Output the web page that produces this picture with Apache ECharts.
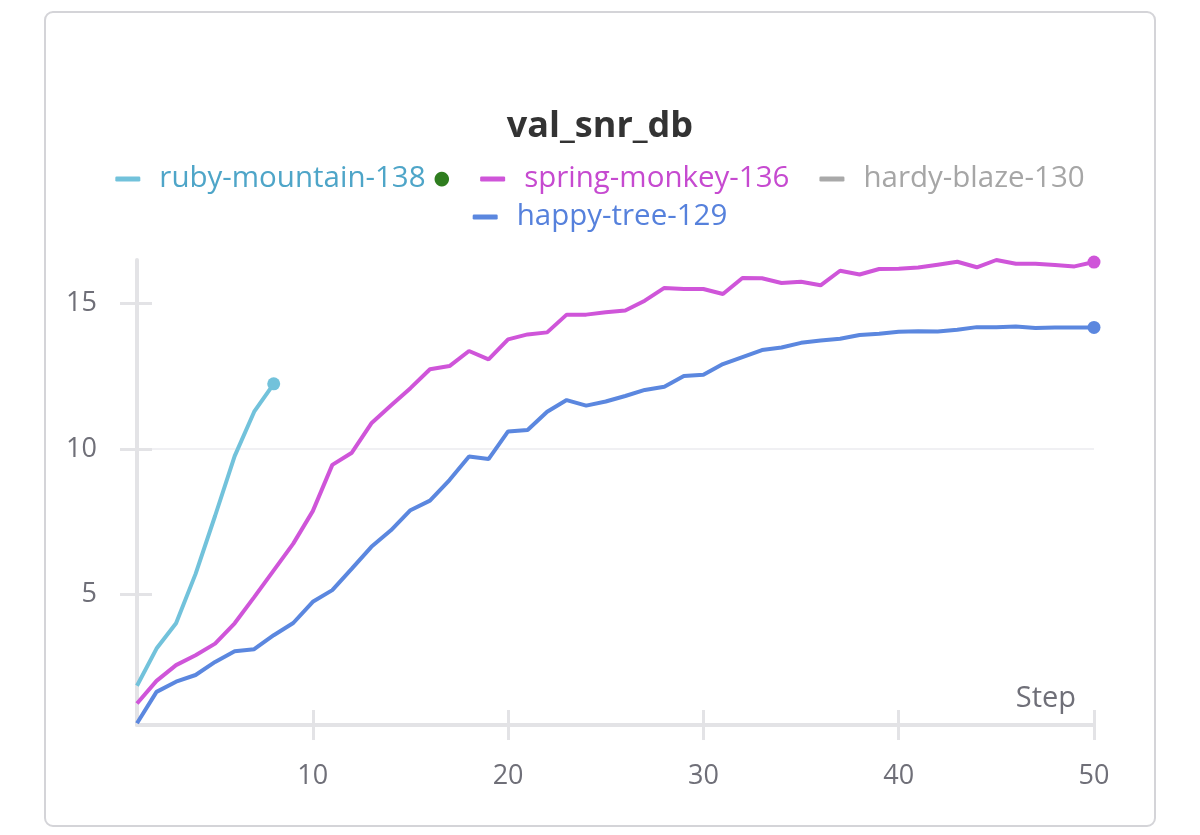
<!DOCTYPE html>
<html>
<head>
<meta charset="utf-8">
<script src="https://cdn.jsdelivr.net/npm/echarts@6/dist/echarts.min.js"></script>
<style>
  html, body { margin: 0; padding: 0; background: #fff; }
  #main { width: 1200px; height: 835px; }
</style>
</head>
<body>
<div id="main"></div>
<script>
// run names, in legend order
const runNames = ["ruby-mountain-138", "spring-monkey-136", "hardy-blaze-130", "happy-tree-129"];
const lineColors = ["#72c2db", "#cf55d9", "#a9a9a9", "#5b87df"];
const textColors = ["#4ea5c8", "#c64ad0", "#a6a6a6", "#5681dc"];

// val_snr_db per step (steps start at 1)
const rubyMountain = [1.85, 3.13, 4.0, 5.7, 7.7, 9.75, 11.28, 12.24];
const springMonkey = [
  1.24, 2.02, 2.56, 2.9, 3.3, 4.0, 4.9, 5.82, 6.74, 7.86,
  9.45, 9.87, 10.88, 11.49, 12.09, 12.74, 12.85, 13.37, 13.08, 13.77,
  13.94, 14.01, 14.62, 14.62, 14.7, 14.76, 15.1, 15.54, 15.5, 15.5,
  15.33, 15.88, 15.87, 15.71, 15.75, 15.63, 16.13, 16.0, 16.19, 16.2,
  16.24, 16.34, 16.44, 16.25, 16.5, 16.37, 16.37, 16.33, 16.28, 16.43
];
const hardyBlaze = [];
const happyTree = [
  0.56, 1.64, 1.99, 2.22, 2.67, 3.04, 3.11, 3.59, 4.01, 4.74,
  5.14, 5.88, 6.63, 7.2, 7.89, 8.22, 8.93, 9.74, 9.65, 10.6,
  10.65, 11.28, 11.68, 11.49, 11.63, 11.82, 12.03, 12.14, 12.51, 12.55,
  12.92, 13.16, 13.4, 13.49, 13.65, 13.73, 13.79, 13.92, 13.96, 14.03,
  14.05, 14.04, 14.1, 14.19, 14.19, 14.21, 14.16, 14.18, 14.18, 14.18
];

const xTicks = [10, 20, 30, 40, 50];
const yTicks = [5, 10, 15];

const runValues = [rubyMountain, springMonkey, hardyBlaze, happyTree];

const font = "Open Sans";
const axisGray = "#e3e3e6";
const labelGray = "#6f6f78";

function toPairs(values) {
  return values.map((v, i) => [i + 1, v]);
}

const rich = { dot: { color: "#2f7d1f", fontSize: 19, fontFamily: "DejaVu Sans", padding: [0, 0, 0, 8] } };
runNames.forEach((name, i) => {
  rich["r" + i] = { color: textColors[i], fontSize: 29.5, fontFamily: font, padding: [0, 0, 0, 14] };
});

function legendFormatter(name) {
  const i = runNames.indexOf(name);
  return "{r" + i + "|" + name + "}" + (i === 0 ? "{dot|●}" : "");
}

const legendBase = {
  left: "center",
  icon: "roundRect",
  itemWidth: 25,
  itemHeight: 5,
  itemGap: 30,
  selectedMode: false,
  formatter: legendFormatter,
  textStyle: { fontFamily: font, fontSize: 29.5, rich: rich },
};

var chartDom = document.getElementById("main");
var myChart = echarts.init(chartDom);
var option;

option = {
  animation: false,
  backgroundColor: "#fff",
  graphic: [
    {
      type: "rect",
      shape: { x: 45, y: 12, width: 1110, height: 814, r: 8 },
      style: { fill: "none", stroke: "#d4d4d8", lineWidth: 2 },
      silent: true,
    },
  ],
  title: {
    text: "val_snr_db",
    left: "center",
    top: 104,
    textStyle: { fontFamily: font, fontSize: 36, fontWeight: "bold", color: "#333" },
  },
  legend: [
    Object.assign({}, legendBase, { top: 159, data: runNames.slice(0, 3) }),
    Object.assign({}, legendBase, { top: 197, data: runNames.slice(3) }),
  ],
  grid: { left: 137, right: 106, top: 260, bottom: 110 },
  xAxis: [
    {
      type: "value",
      min: 1,
      max: 50,
      name: "Step",
      nameLocation: "end",
      nameGap: -18,
      nameTextStyle: {
        fontFamily: font, fontSize: 29, color: labelGray,
        align: "right", verticalAlign: "bottom", padding: [0, 0, 12, 0],
      },
      axisLine: { show: true, lineStyle: { color: axisGray, width: 4 } },
      axisTick: { show: true, customValues: xTicks, length: 15, lineStyle: { color: axisGray, width: 3 } },
      axisLabel: { customValues: xTicks, margin: 38, fontFamily: font, fontSize: 27, color: labelGray },
      splitLine: { show: false },
    },
    {
      type: "value",
      min: 1,
      max: 50,
      axisLine: { show: false },
      axisTick: { show: true, inside: true, customValues: xTicks, length: 15, lineStyle: { color: axisGray, width: 3 } },
      axisLabel: { show: false },
      splitLine: { show: false },
      position: "bottom",
    },
  ],
  yAxis: [
    {
      type: "value",
      min: 0.5,
      max: 16.5,
      axisLine: { show: true, lineStyle: { color: axisGray, width: 4 } },
      axisTick: { show: true, customValues: yTicks, length: 17, lineStyle: { color: axisGray, width: 3 } },
      axisLabel: { customValues: yTicks, margin: 40, fontFamily: font, fontSize: 27, color: labelGray },
      splitLine: {
        show: true, showMinLine: false, showMaxLine: false,
        lineStyle: { color: "#ebebef", width: 1.5 },
      },
    },
    {
      type: "value",
      min: 0.5,
      max: 16.5,
      position: "left",
      axisLine: { show: false },
      axisTick: { show: true, inside: true, customValues: yTicks, length: 15, lineStyle: { color: axisGray, width: 3 } },
      axisLabel: { show: false },
      splitLine: { show: false },
    },
  ],
  series: runNames.map((name, i) => {
    const n = runValues[i].length;
    return {
      name: name,
      type: "line",
      xAxisIndex: 0,
      yAxisIndex: 0,
      data: toPairs(runValues[i]),
      color: lineColors[i],
      lineStyle: { width: 4, color: lineColors[i] },
      itemStyle: { color: lineColors[i] },
      showSymbol: true,
      showAllSymbol: true,
      symbol: "circle",
      symbolSize: (v, p) => (p.dataIndex === n - 1 ? 13 : 0),
      emphasis: { disabled: true },
      z: 3,
    };
  }),
};

option && myChart.setOption(option);
</script>
</body>
</html>
